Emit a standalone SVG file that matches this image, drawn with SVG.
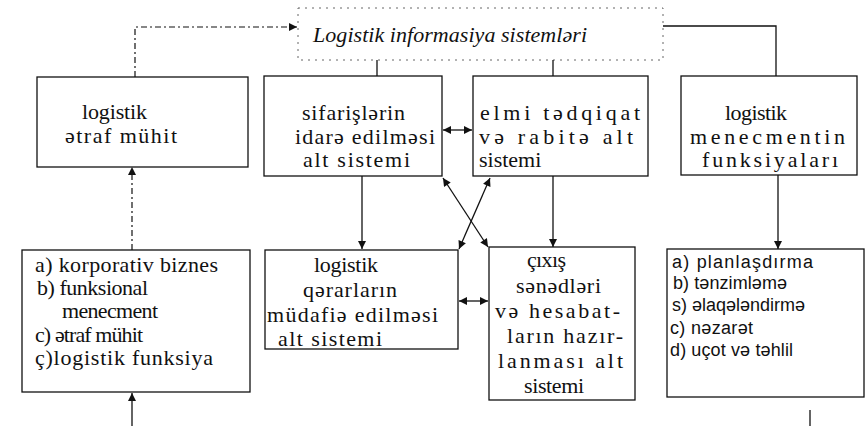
<svg xmlns="http://www.w3.org/2000/svg" width="867" height="426" viewBox="0 0 867 426">
<style>
.box{fill:none;stroke:#111;stroke-width:1.3}
.t{font-family:"Liberation Serif","Times New Roman",serif;font-size:22px;fill:#111}
.s{font-family:"Liberation Sans",Arial,sans-serif;font-size:18px;fill:#111}
.ti{font-family:"Liberation Serif","Times New Roman",serif;font-size:22px;font-style:italic;fill:#111}
.ln{fill:none;stroke:#111;stroke-width:1.3}
.dl{fill:none;stroke:#111;stroke-width:1.2;stroke-dasharray:6 3 2 3}
.tb{fill:none;stroke:#666;stroke-width:1;stroke-dasharray:2 5}
</style>
<defs>
<marker id="ah" viewBox="0 0 10 10" refX="10" refY="5" markerWidth="10" markerHeight="8" markerUnits="userSpaceOnUse" orient="auto-start-reverse">
<path d="M0,0 L10,5 L0,10 Z" fill="#111"/>
</marker>
</defs>
<rect width="867" height="426" fill="#fff"/>

<g id="title">
<rect class="tb" x="298" y="8" width="365" height="52"/>
<text class="ti" x="313" y="42" textLength="274">Logistik informasiya sistemləri</text>
</g>

<g id="n1">
<rect class="box" x="37" y="77" width="211" height="90"/>
<text class="t" x="82" y="119" textLength="65">logistik</text>
<text class="t" x="65" y="143" textLength="112">ətraf mühit</text>
</g>

<g id="n2">
<rect class="box" x="264" y="76" width="178" height="100"/>
<text class="t" x="302" y="120" textLength="103">sifarişlərin</text>
<text class="t" x="295" y="144" textLength="140">idarə edilməsi</text>
<text class="t" x="303" y="167" textLength="107">alt sistemi</text>
</g>

<g id="n3">
<rect class="box" x="473" y="76" width="175" height="100"/>
<text class="t" x="480" y="120" textLength="160">elmi tədqiqat</text>
<text class="t" x="479" y="144" textLength="154">və rabitə alt</text>
<text class="t" x="479" y="167">sistemi</text>
</g>

<g id="n4">
<rect class="box" x="681" y="76" width="176" height="99"/>
<text class="t" x="725" y="120" textLength="62">logistik</text>
<text class="t" x="690" y="144" textLength="155">menecmentin</text>
<text class="t" x="702" y="167" textLength="136">funksiyaları</text>
</g>

<g id="n5">
<rect class="box" x="265" y="250" width="193" height="99"/>
<text class="t" x="314" y="272" textLength="64">logistik</text>
<text class="t" x="303" y="297" textLength="94">qərarların</text>
<text class="t" x="267" y="322" textLength="171">müdafiə edilməsi</text>
<text class="t" x="278" y="346" textLength="104">alt sistemi</text>
</g>

<g id="n6">
<rect class="box" x="489" y="247" width="146" height="153"/>
<text class="t" x="527" y="267" textLength="39">çıxış</text>
<text class="t" x="516" y="293" textLength="85">sənədləri</text>
<text class="t" x="495" y="318" textLength="125">və hesabat-</text>
<text class="t" x="507" y="343" textLength="116">ların hazır-</text>
<text class="t" x="498" y="368" textLength="125">lanması alt</text>
<text class="t" x="524" y="393" textLength="60">sistemi</text>
</g>

<g id="n7">
<rect class="box" x="22" y="250" width="228" height="142"/>
<text class="t" x="35" y="272" textLength="183">a) korporativ biznes</text>
<text class="t" x="37" y="295" textLength="111">b) funksional</text>
<text class="t" x="62" y="318" textLength="96">menecment</text>
<text class="t" x="35" y="342" textLength="108">c) ətraf mühit</text>
<text class="t" x="35" y="365" textLength="178">ç)logistik funksiya</text>
</g>

<g id="n8">
<rect class="box" x="667" y="249" width="197" height="148"/>
<text class="s" x="672" y="268" textLength="141">a) planlaşdırma</text>
<text class="s" x="673" y="289" textLength="114">b) tənzimləmə</text>
<text class="s" x="672" y="311" textLength="133">s) əlaqələndirmə</text>
<text class="s" x="670" y="334" textLength="83">c) nəzarət</text>
<text class="s" x="670" y="356" textLength="123">d) uçot və təhlil</text>
</g>

<g id="connectors">
<path class="dl" d="M135,77 V27 H297" marker-end="url(#ah)"/>
<path class="ln" d="M663,26 H776 V76"/>
<path class="ln" d="M377,60 V76"/>
<path class="ln" d="M553,60 V76"/>
<path class="ln" d="M443,130 H472" marker-start="url(#ah)" marker-end="url(#ah)"/>
<path class="ln" d="M362,176 V249" marker-end="url(#ah)"/>
<path class="ln" d="M553,176 V247" marker-end="url(#ah)"/>
<path class="ln" d="M778,175 V249" marker-end="url(#ah)"/>
<path class="ln" d="M443,178 L488,247" marker-start="url(#ah)" marker-end="url(#ah)"/>
<path class="ln" d="M490,178 L459,249" marker-start="url(#ah)" marker-end="url(#ah)"/>
<path class="ln" d="M459,301 H488" marker-start="url(#ah)" marker-end="url(#ah)"/>
<path class="dl" d="M132,250 V167" marker-end="url(#ah)"/>
<path class="ln" d="M132,426 V393" marker-end="url(#ah)"/>
<path class="ln" d="M810,410 V426"/>
</g>
</svg>
